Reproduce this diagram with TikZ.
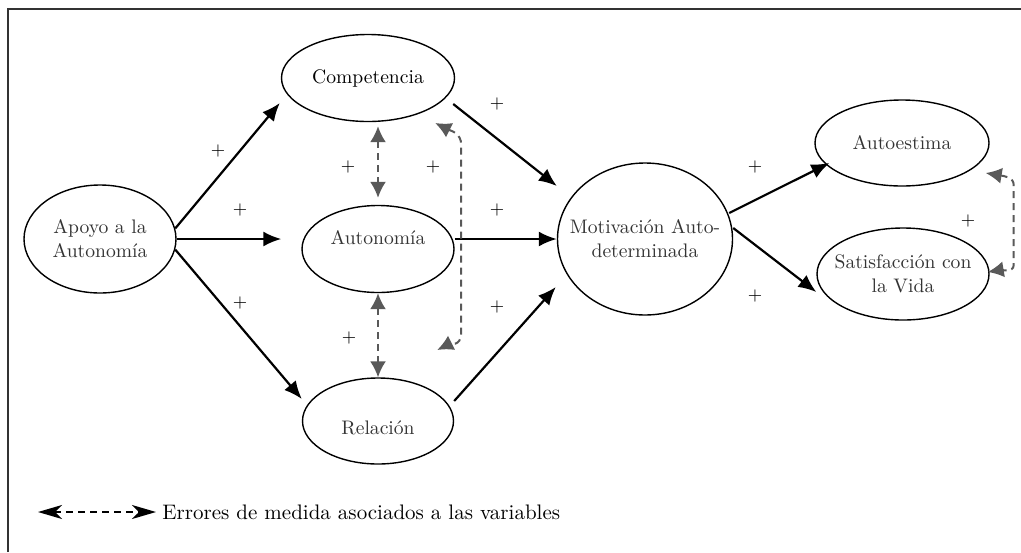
\documentclass[tikz,border=0pt]{standalone}
\usepackage{tikz}
\usetikzlibrary{arrows.meta,calc,shapes.geometric}

\begin{document}
\begin{tikzpicture}[x=0.5pt,y=-0.5pt,
  var/.style={draw,ellipse,line width=0.7pt,inner xsep=-12pt,inner ysep=0pt,align=center,text=black!80,font=\fontsize{9.8}{12}\selectfont},
  pfeil/.style={line width=1.1pt,-{Latex[length=9pt,width=7.5pt]}},
  fehler/.style={line width=1pt,black!65,dash pattern=on 3.5pt off 2.5pt,{Latex[length=8pt,width=8pt]}-{Latex[length=8pt,width=8pt]}},
  legpfeil/.style={line width=0.8pt,dash pattern=on 3.5pt off 2.5pt,{Stealth[length=12pt,width=7pt,inset=3.5pt]}-{Stealth[length=12pt,width=7pt,inset=3.5pt]}},
  sgn/.style={font=\small,inner sep=0pt}]
\useasboundingbox (0,0) rectangle (1021,552);
\draw[line width=1pt,black!80] (8,552) -- (8,9) -- (1021,9);

% variables
\node[var,minimum width=76pt,minimum height=54pt] (apoyo) at (100,239) {Apoyo a la\\Autonomía};
\node[var,text=black,minimum width=86.5pt,minimum height=43.5pt] (comp) at (368,78) {Competencia};
\node[var,minimum width=76pt,minimum height=43.5pt,text depth=12pt] (auto) at (378,249) {Autonomía};
\node[var,minimum width=75.5pt,minimum height=43pt,text height=14pt] (rel) at (378,421) {Relación};
\node[var,minimum width=87.5pt,minimum height=76pt] (motiv) at (645,239) {Motivación Auto-\\determinada};
\node[var,minimum width=87pt,minimum height=43pt] (autoest) at (902,143) {Autoestima};
\node[var,minimum width=86pt,minimum height=46pt] (satis) at (903,274) {Satisfacción con\\la Vida};

% paths
\draw[pfeil] (apoyo.8) -- ($(comp.west)+(-1,25)$);
\draw[pfeil,shorten >=10pt] (apoyo.east) -- (apoyo.east -| auto.west);
\draw[pfeil] (apoyo.-8) -- ($(rel.west)+(0,-22)$);
\draw[pfeil] ($(comp.east)+(-2,26)$) -- ($(motiv.west)+(0,-53)$);
\draw[pfeil] (auto.east |- motiv.west) -- (motiv.west);
\draw[pfeil] ($(rel.east)+(0,-20)$) -- ($(motiv.west)+(-1,48)$);
\draw[pfeil] ($(motiv.east)+(-4,-26)$) -- ($(autoest.west)+(15,20)$);
\draw[pfeil] ($(motiv.east)+(0,-11)$) -- ($(satis.west)+(0,18)$);

% errores
\draw[fehler,shorten <=2pt,shorten >=3.5pt] (auto.north |- comp.south) -- (auto.north);
\draw[fehler] (auto.south) -- (rel.north);
\draw[fehler] ($(comp.east)+(-20,45)$) .. controls +(16,8) and +(0,-12) .. ++(26,22) -- ++(0,188) .. controls +(0,14) and +(12,-6) .. ++(-24,17);
\draw[fehler] ($(autoest.east)+(-4,30)$) .. controls +(18,3) and +(0,-8) .. ++(28,12) -- ++(0,80) .. controls +(0,8) and +(12,-2) .. ++(-26,7);

% signos
\foreach \px/\py [count=\i] in {218/151,240/210,240/303,348/167,433/167,497/104,497/210,349/338,497/307,755/167,755/296,968/221}
  \node[sgn] (plus\i) at (\px,\py) {+};

% leyenda
\coordinate (legl) at (38,512);
\node[anchor=west,inner sep=3pt,font=\fontsize{10.5}{12}\selectfont] (legtxt) at (156,512) {Errores de medida asociados a las variables};
\draw[legpfeil] (legl) -- (legtxt.west);
\end{tikzpicture}
\end{document}
